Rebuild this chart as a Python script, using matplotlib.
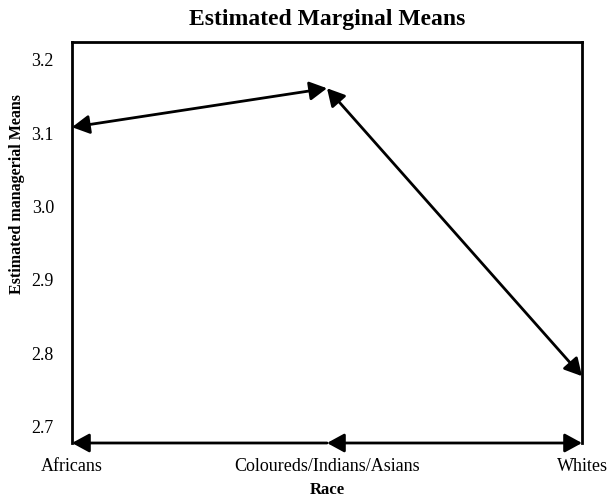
import matplotlib
matplotlib.use("Agg")
import matplotlib.pyplot as plt

# estimated marginal means by race
races = ["Africans", "Coloureds/Indians/Asians", "Whites"]
means = [3.108, 3.161, 2.769]
y_ticks = [2.7, 2.8, 2.9, 3.0, 3.1, 3.2]

plt.rcParams["font.family"] = ["Liberation Serif", "DejaVu Serif"]

fig = plt.figure(figsize=(6.07, 4.97), dpi=100)
ax = fig.add_axes([72 / 607, 54 / 497, 510 / 607, 401 / 497])

x = list(range(len(races)))
ax.set_xlim(x[0], x[-1])
ax.set_ylim(2.678, 3.224)

head = "head_length=0.55,head_width=0.3"
arrow = dict(arrowstyle="<|-|>," + head, color="black",
             lw=2.0, mutation_scale=19, shrinkA=0, shrinkB=0)

# line between neighbouring means, arrowheads on both ends
for i in range(len(x) - 1):
    ax.annotate("", xy=(x[i + 1], means[i + 1]), xytext=(x[i], means[i]),
                xycoords="data", arrowprops=arrow, annotation_clip=False)

# x axis drawn as arrow segments too (first one only has its left head)
base = ax.get_ylim()[0]
for i in range(len(x) - 1):
    props = dict(arrow)
    if i == 0:
        props["arrowstyle"] = "-|>," + head
        ax.annotate("", xy=(x[i], base), xytext=(x[i + 1], base),
                    xycoords="data", arrowprops=props, annotation_clip=False)
    else:
        ax.annotate("", xy=(x[i + 1], base), xytext=(x[i], base),
                    xycoords="data", arrowprops=props, annotation_clip=False)

for side in ["left", "top", "right"]:
    ax.spines[side].set_linewidth(2.0)
ax.spines["bottom"].set_visible(False)

ax.set_yticks(y_ticks)
ax.set_yticklabels([f"{v:.1f}" for v in y_ticks], fontsize=13)
ax.set_xticks(x)
ax.set_xticklabels(races, fontsize=13)
ax.tick_params(length=0)
ax.tick_params(axis="y", pad=13)
ax.tick_params(axis="x", pad=11)

ax.set_xlabel("Race", fontsize=12, fontweight="bold", labelpad=5)
ax.set_ylabel("Estimated managerial Means", fontsize=11.5, fontweight="bold")
ax.yaxis.set_label_coords(-0.092, 0.62)
ax.set_title("Estimated Marginal Means", fontsize=17, fontweight="bold", pad=12)

fig.savefig("out.png", dpi=100, facecolor="white")
